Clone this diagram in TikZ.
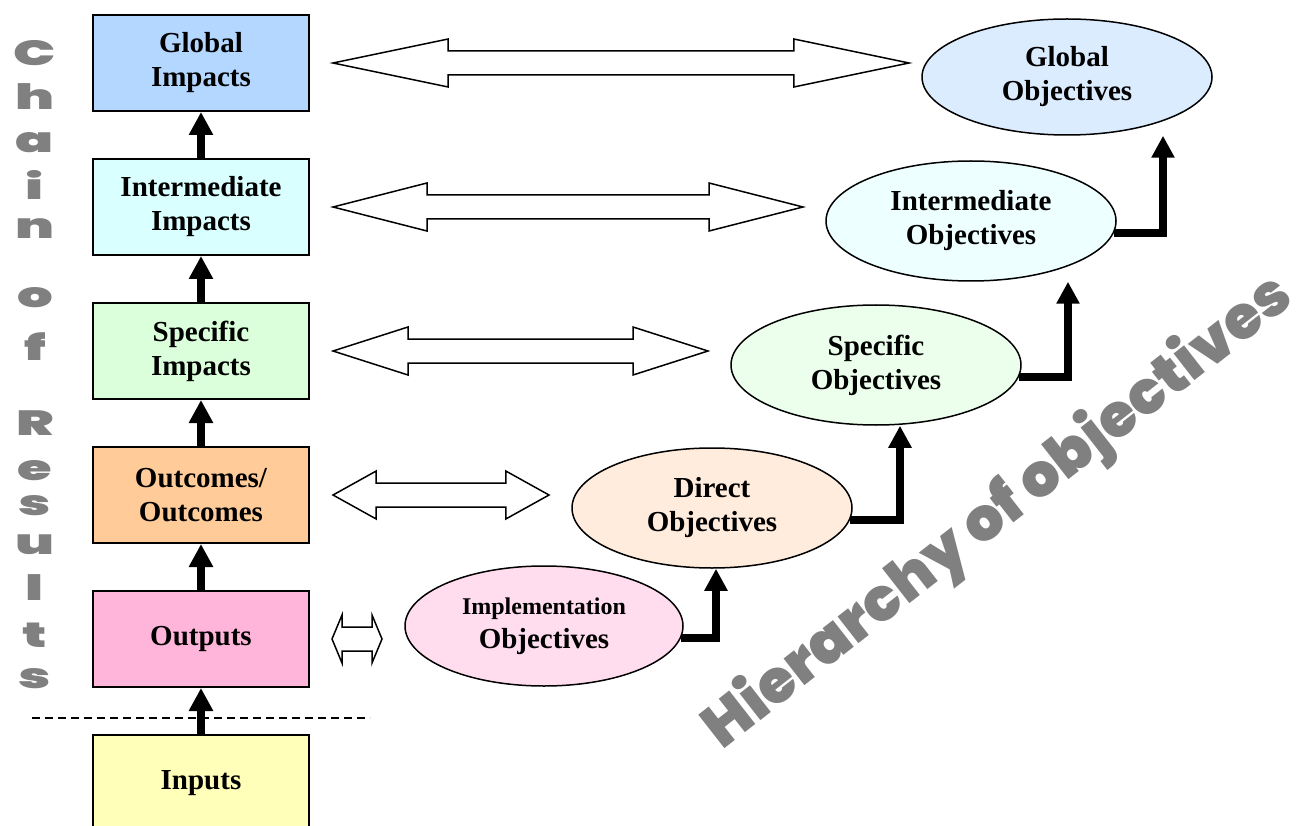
\documentclass[tikz,border=0pt]{standalone}
\usepackage{fontspec}
\usepackage{graphicx}
\setmainfont{Liberation Serif}
\newfontfamily\heavyfont{Poppins Black}
\usetikzlibrary{shapes.geometric,arrows.meta,calc}
\definecolor{cGI}{RGB}{180,215,255}
\definecolor{cII}{RGB}{218,255,255}
\definecolor{cSI}{RGB}{218,255,218}
\definecolor{cOC}{RGB}{255,204,153}
\definecolor{cOP}{RGB}{255,180,218}
\definecolor{cIN}{RGB}{255,255,185}
\definecolor{eGO}{RGB}{220,236,255}
\definecolor{eIO}{RGB}{238,255,255}
\definecolor{eSO}{RGB}{236,255,236}
\definecolor{eDO}{RGB}{255,236,221}
\definecolor{eMO}{RGB}{255,221,238}
\definecolor{wordgray}{RGB}{128,128,128}
\newcommand\hollowarrow[2]{%
  \draw[hollow] (#1) -- ($(#1)!0.2!(#2)+(0,24)$) -- ($(#1)!0.2!(#2)+(0,12)$)
    -- ($(#1)!0.8!(#2)+(0,12)$) -- ($(#1)!0.8!(#2)+(0,24)$) -- (#2)
    -- ($(#1)!0.8!(#2)+(0,-24)$) -- ($(#1)!0.8!(#2)+(0,-12)$)
    -- ($(#1)!0.2!(#2)+(0,-12)$) -- ($(#1)!0.2!(#2)+(0,-24)$) -- cycle;}
\begin{document}
\begin{tikzpicture}[x=1pt,y=-1pt,
  box/.style={draw=black, line width=2pt, minimum width=216pt, minimum height=96pt,
    inner sep=0pt, align=center, font=\fontsize{29}{34}\selectfont\bfseries},
  obj/.style={ellipse, draw=black, line width=1.5pt, inner sep=0pt, align=center,
    font=\fontsize{29}{34}\selectfont\bfseries},
  uparrow/.style={line width=8pt, -{Triangle[length=23pt,width=23pt]}},
  elbow/.style={line width=8pt, line join=miter, -{Triangle[length=22pt,width=22pt]}},
  hollow/.style={draw=black, line width=1.5pt, fill=white, line join=miter},
  dashline/.style={line width=1.5pt, dash pattern=on 8pt off 5pt},
  vletter/.style={text=wordgray, anchor=base, inner sep=0pt,
    font=\heavyfont\fontsize{35}{35}\selectfont},
]
\useasboundingbox[fill=white] (0,0) rectangle (1309,826);

% vertical word
\node[vletter] (l1) at (35,66) {\scalebox{1.6}[1]{C}};
\node[vletter] (l2) at (35,110) {\scalebox{1.6}[1]{h}};
\node[vletter] (l3) at (35,153) {\scalebox{1.6}[1]{a}};
\node[vletter] (l4) at (35,200) {\scalebox{1.6}[1]{i}};
\node[vletter] (l5) at (35,239) {\scalebox{1.6}[1]{n}};
\node[vletter] (l6) at (35,308) {\scalebox{1.6}[1]{o}};
\node[vletter] (l7) at (35,360) {\scalebox{1.6}[1]{f}};
\node[vletter] (l8) at (35,435) {\scalebox{1.6}[1]{R}};
\node[vletter] (l9) at (35,480) {\scalebox{1.6}[1]{e}};
\node[vletter] (l10) at (35,515) {\scalebox{1.6}[1]{s}};
\node[vletter] (l11) at (35,554) {\scalebox{1.6}[1]{u}};
\node[vletter] (l12) at (35,600) {\scalebox{1.6}[1]{l}};
\node[vletter] (l13) at (35,647) {\scalebox{1.6}[1]{t}};
\node[vletter] (l14) at (35,688) {\scalebox{1.6}[1]{s}};

% diagonal word
\node[rotate=38, text=wordgray, inner sep=0pt,
  font=\heavyfont\fontsize{60}{60}\selectfont] (hier) at (999,513) {Hierarchy of objectives};

% chain boxes
\node[box, fill=cGI] (gi) at (201,63) {Global\\Impacts};
\node[box, fill=cII] (ii) at (201,207) {Intermediate\\Impacts};
\node[box, fill=cSI] (si) at (201,351) {Specific\\Impacts};
\node[box, fill=cOC] (oc) at (201,495) {Outcomes/\\Outcomes};
\node[box, fill=cOP] (op) at (201,639) {Outputs};
\node[box, fill=cIN] (in) at (201,783) {Inputs};

% dashed separator
\coordinate (d1) at (32,718);
\coordinate (d2) at (370,718);
\draw[dashline] (d1) -- (d2);

% chain arrows
\draw[uparrow] (ii.north) -- (gi.south);
\draw[uparrow] (si.north) -- (ii.south);
\draw[uparrow] (oc.north) -- (si.south);
\draw[uparrow] (op.north) -- (oc.south);
\draw[uparrow] (in.north) -- (op.south);

% objectives
\node[obj, fill=eGO, minimum width=290pt, minimum height=116pt] (glob) at (1067,77) {Global\\Objectives};
\node[obj, fill=eIO, minimum width=290pt, minimum height=120pt] (inter) at (971,221) {Intermediate\\Objectives};
\node[obj, fill=eSO, minimum width=290pt, minimum height=120pt] (spec) at (876,365) {Specific\\Objectives};
\node[obj, fill=eDO, minimum width=280pt, minimum height=120pt] (dir) at (712,508) {Direct\\Objectives};
\node[obj, fill=eMO, minimum width=278pt, minimum height=120pt] (impl) at (544,626)
  {{\fontsize{24}{29}\selectfont Implementation}\\Objectives};

% elbow arrows
\draw[elbow] (impl.-5) -| ([xshift=4pt]dir.south);
\draw[elbow] (dir.-5) -| ([xshift=24pt]spec.south);
\draw[elbow] (spec.-5) -| ([xshift=97pt]inter.south);
\draw[elbow] (inter.-5) -| ([xshift=96pt]glob.south);

% hollow double arrows
\coordinate (h1a) at (333,63);  \coordinate (h1b) at (909,63);
\coordinate (h2a) at (333,207); \coordinate (h2b) at (803,207);
\coordinate (h3a) at (333,351); \coordinate (h3b) at (708,351);
\coordinate (h4a) at (333,495); \coordinate (h4b) at (549,495);
\coordinate (h5a) at (332,639); \coordinate (h5b) at (382,639);
\hollowarrow{h1a}{h1b}
\hollowarrow{h2a}{h2b}
\hollowarrow{h3a}{h3b}
\hollowarrow{h4a}{h4b}
\hollowarrow{h5a}{h5b}
\end{tikzpicture}
\end{document}
